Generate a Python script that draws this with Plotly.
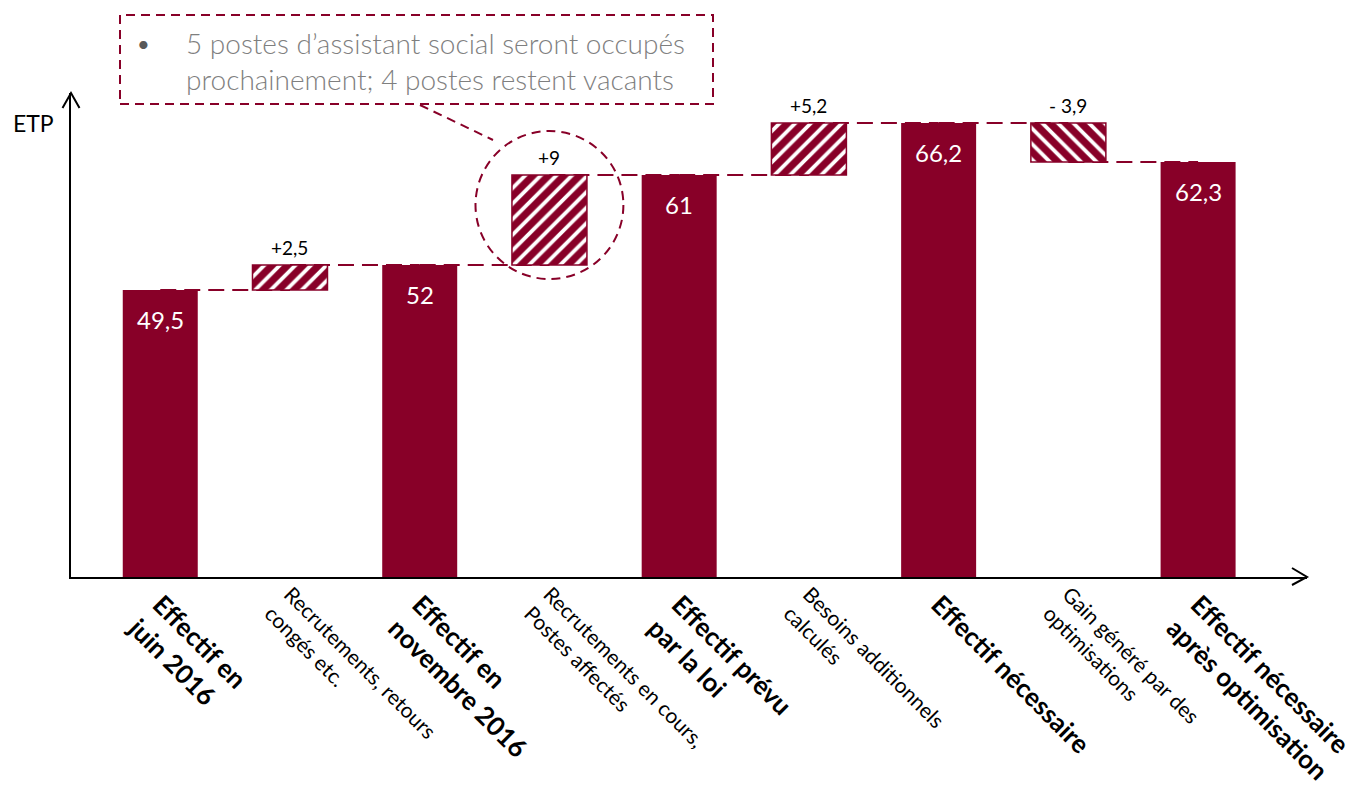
import plotly.graph_objects as go

# ---------------- data ----------------
categories = [
    "Effectif en<br>juin 2016",
    "Recrutements, retours<br>congés etc.",
    "Effectif en<br>novembre 2016",
    "Recrutements en cours,<br>Postes affectés",
    "Effectif prévu<br>par la loi",
    "Besoins additionnels<br>calculés",
    "Effectif nécessaire",
    "Gain généré par des<br>optimisations",
    "Effectif nécessaire<br>après optimisation",
]
kinds = ["total", "delta", "total", "delta", "total", "delta", "total", "delta", "total"]
values = [49.5, 2.5, 52, 9, 61, 5.2, 66.2, -3.9, 62.3]
delta_labels = ["+2,5", "+9", "+5,2", "- 3,9"]
note_lines = ["5 postes d’assistant social seront occupés", "prochainement; 4 postes restent vacants"]
y_title = "ETP"

# ---------------- style ----------------
RED = "#880028"
FONT = "Lato, 'Open Sans', sans-serif"
W, H = 1350, 802
ML, MR, MT, MB = 71, 43, 93, 225
PW, PH = W - ML - MR, H - MT - MB
YMIN, YMAX = 20.8, 20.8 + PH / 10.0
XMIN = -0.688
XMAX = XMIN + PW / 129.73
BAR_W = 0.578


def px(xp):
    return (xp - ML) / PW


def py(yp):
    return (H - MB - yp) / PH


x = list(range(len(categories)))

# compute bases / levels from the data
bases, levels = [], []
running = 0.0
for k, v in zip(kinds, values):
    if k == "total":
        bases.append(0)
        running = v
    else:
        bases.append(running)
        running = running + v
    levels.append(running)

tot_i = [i for i, k in enumerate(kinds) if k == "total"]
d_idx = [i for i, k in enumerate(kinds) if k == "delta"]
tot_x = [x[i] for i in tot_i]
tot_y = [values[i] for i in tot_i]
pos_idx = [i for i in d_idx if values[i] >= 0]
neg_idx = [i for i in d_idx if values[i] < 0]

fig = go.Figure()
fig.add_bar(x=tot_x, y=tot_y, width=BAR_W, marker=dict(color=RED, line=dict(width=0)),
            hoverinfo="skip", showlegend=False)
for idxs, shp in ((pos_idx, "/"), (neg_idx, "\\")):
    fig.add_bar(x=[x[i] for i in idxs], y=[values[i] for i in idxs],
                base=[bases[i] for i in idxs], width=BAR_W, xaxis="x2",
                marker=dict(color=RED, line=dict(color=RED, width=1.5),
                            pattern=dict(shape=shp, fgcolor=RED, bgcolor="white",
                                         fgopacity=1, size=11, solidity=0.65)),
                hoverinfo="skip", showlegend=False)

shapes = []
# dashed connectors
for i in range(len(x) - 1):
    shapes.append(dict(type="line", xref="x", yref="y", x0=x[i], x1=x[i + 1],
                       y0=levels[i], y1=levels[i], layer="below",
                       line=dict(color=RED, width=2, dash="16px,8px")))

annotations = []
# value labels
for xi, v in zip(tot_x, tot_y):
    annotations.append(dict(x=xi, y=v, xref="x", yref="y", yshift=-29, showarrow=False,
                            text=f"{v:g}".replace(".", ","),
                            font=dict(family=FONT, size=24, color="white")))
for lab, i in zip(delta_labels, d_idx):
    top = max(bases[i], bases[i] + values[i])
    annotations.append(dict(x=x[i], y=top, xref="x", yref="y", yshift=18, showarrow=False,
                            text=lab, font=dict(family=FONT, size=19, color="black")))

# circle around the +9 step
ci = d_idx[1]
cy = bases[ci] + values[ci] / 2 + 1.5
shapes.append(dict(type="circle", xref="x", yref="y", x0=x[ci] - 0.57, x1=x[ci] + 0.57,
                   y0=cy - 7.4, y1=cy + 7.4, line=dict(color=RED, width=2, dash="9px,6px")))
# note box + pointer
shapes.append(dict(type="rect", xref="paper", yref="paper", x0=px(120), x1=px(713),
                   y0=py(104), y1=py(15), line=dict(color=RED, width=2, dash="9px,6px")))
shapes.append(dict(type="line", xref="paper", yref="paper", x0=px(420), y0=py(105),
                   x1=px(493), y1=py(140), line=dict(color=RED, width=2, dash="9px,6px")))
annotations.append(dict(xref="paper", yref="paper", x=px(184), y=py(61), xanchor="left",
                        yanchor="middle", align="left", showarrow=False,
                        text="<br>".join(note_lines),
                        font=dict(family=FONT, size=28, color="#7f7f7f", weight=300)))
annotations.append(dict(xref="paper", yref="paper", x=px(143), y=py(43), xanchor="center",
                        yanchor="middle", showarrow=False,
                        text="•", font=dict(family=FONT, size=22, color="#595959")))
# axis arrowheads
shapes.append(dict(type="path", xref="paper", yref="paper",
                   path=f"M {px(62.5)},{py(108)} L {px(71)},{py(93)} L {px(79.5)},{py(108)}",
                   line=dict(color="black", width=2)))
shapes.append(dict(type="path", xref="paper", yref="paper",
                   path=f"M {px(1292)},{py(568)} L {px(1307)},{py(577)} L {px(1292)},{py(585)}",
                   line=dict(color="black", width=2)))
annotations.append(dict(xref="paper", yref="paper", x=px(33), y=py(123), xanchor="center",
                        yanchor="middle", showarrow=False,
                        text=y_title, font=dict(family=FONT, size=23, color="black")))

tot_text = ["<b>" + categories[i].replace("<br>", "</b><br><b>") + "</b>" for i in tot_i]
d_text = [categories[i] for i in d_idx]

fig.update_layout(
    width=W, height=H, margin=dict(l=ML, r=MR, t=MT, b=MB),
    paper_bgcolor="white", plot_bgcolor="white",
    barmode="overlay", shapes=shapes, annotations=annotations,
    font=dict(family=FONT, color="black"),
    xaxis=dict(range=[XMIN, XMAX], tickvals=tot_x, ticktext=tot_text, tickangle=45,
               tickfont=dict(family=FONT, size=26, color="black"), automargin=False,
               ticklabeloverflow="allow",
               showline=True, linecolor="black", linewidth=2, showgrid=False,
               zeroline=False, ticks=""),
    xaxis2=dict(range=[XMIN, XMAX], tickvals=[x[i] for i in d_idx], ticktext=d_text,
                tickangle=45, overlaying="x", side="bottom", anchor="y",
                tickfont=dict(family=FONT, size=21, color="black"), automargin=False,
                ticklabeloverflow="allow",
                showline=False, showgrid=False, zeroline=False, ticks=""),
    yaxis=dict(range=[YMIN, YMAX], showline=True, linecolor="black", linewidth=2,
               showgrid=False, zeroline=False, showticklabels=False, ticks="",
               automargin=False),
)

fig.write_html("out.html", config={"displayModeBar": False},
               post_script="document.body.style.margin='0';document.body.style.overflow='hidden';")
